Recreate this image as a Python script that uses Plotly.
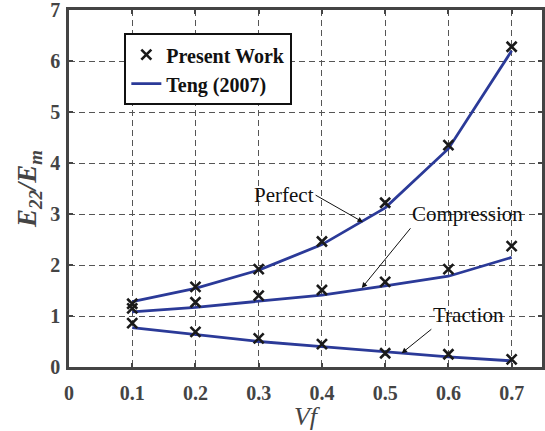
import plotly.graph_objects as go

# Fibre volume fraction
vf = [0.1, 0.2, 0.3, 0.4, 0.5, 0.6, 0.7]

# Present work (markers)
pw_perfect = [1.24, 1.57, 1.92, 2.46, 3.22, 4.35, 6.28]
pw_compression = [1.15, 1.27, 1.40, 1.51, 1.67, 1.92, 2.37]
pw_traction = [0.86, 0.69, 0.56, 0.45, 0.27, 0.25, 0.15]

# Teng (2007) reference curves
teng_perfect = [1.28, 1.54, 1.90, 2.40, 3.12, 4.28, 6.20]
teng_compression = [1.08, 1.17, 1.29, 1.41, 1.59, 1.78, 2.15]
teng_traction = [0.77, 0.63, 0.50, 0.40, 0.30, 0.20, 0.12]

x_ticks = [0, 0.1, 0.2, 0.3, 0.4, 0.5, 0.6, 0.7]
y_ticks = [0, 1, 2, 3, 4, 5, 6, 7]

LINE_BLUE = "#2B3A98"
FONT = "Liberation Serif"
AXIS_GREY = "#444444"

fig = go.Figure()

for i, ys in enumerate([teng_perfect, teng_compression, teng_traction]):
    fig.add_trace(go.Scatter(
        x=vf, y=ys, mode="lines",
        line=dict(color=LINE_BLUE, width=2.8),
        name="<b>Teng (2007)</b>", legendgroup="teng", showlegend=(i == 0),
        legendrank=2,
    ))

for i, ys in enumerate([pw_perfect, pw_compression, pw_traction]):
    fig.add_trace(go.Scatter(
        x=vf, y=ys, mode="markers",
        marker=dict(symbol="x-thin", size=10, line=dict(color="#1a1a1a", width=2.6)),
        name="<b>Present Work</b>", legendgroup="pw", showlegend=(i == 0),
        legendrank=1,
    ))

# Curve labels: (text, arrow tail x, tail y, arrow tip x, tip y, xanchor, yanchor)
labels = [
    ("Perfect", 0.390, 3.37, 0.465, 2.84, "right", "middle"),
    ("Compression", 0.540, 2.72, 0.463, 1.55, "left", "bottom"),
    ("Traction", 0.573, 0.74, 0.526, 0.27, "left", "bottom"),
]
for text, axx, ayy, hx, hy, xa, ya in labels:
    fig.add_annotation(x=hx, y=hy, ax=axx, ay=ayy, axref="x", ayref="y",
                       text=text, xanchor=xa, yanchor=ya,
                       font=dict(family=FONT, size=21, color="#111111"),
                       showarrow=True, arrowhead=2, arrowsize=1.1,
                       arrowwidth=1, arrowcolor="#111111")

axis_common = dict(
    showline=True, linecolor=AXIS_GREY, linewidth=2.5, mirror="ticks",
    ticks="inside", ticklen=4, tickwidth=1.5, tickcolor=AXIS_GREY,
    showgrid=True, gridcolor="#555555", gridwidth=1, griddash="6px,4px",
    zeroline=False, automargin=False, ticklabeloverflow="allow",
    tickfont=dict(family=FONT, size=20, color=AXIS_GREY),
)

fig.update_xaxes(
    range=[0, 0.748], tickvals=x_ticks,
    ticktext=["<b>%g</b>" % v for v in x_ticks],
    ticklabelstandoff=6,
    title=dict(text="<i>Vf</i>", font=dict(family=FONT, size=26, color=AXIS_GREY), standoff=4),
    **axis_common,
)
fig.update_yaxes(
    range=[0, 7], tickvals=y_ticks,
    ticktext=["<b>%g</b>" % v for v in y_ticks],
    ticklabelstandoff=2,
    title=dict(text="<b><i>E<sub>22</sub>/E<sub>m</sub></i></b>",
               font=dict(family=FONT, size=27, color=AXIS_GREY), standoff=6),
    **axis_common,
)

fig.update_layout(
    width=545, height=431,
    margin=dict(l=69, r=3, t=10, b=64),
    paper_bgcolor="white", plot_bgcolor="white",
    showlegend=True,
    font=dict(family=FONT),
    legend=dict(
        x=0.117, y=0.935, xanchor="left", yanchor="top",
        bgcolor="white", bordercolor="#111111", borderwidth=2,
        font=dict(family=FONT, size=20, color="#111111"),
        tracegroupgap=0, itemwidth=30,
    ),
)

fig.write_html("out.html")
